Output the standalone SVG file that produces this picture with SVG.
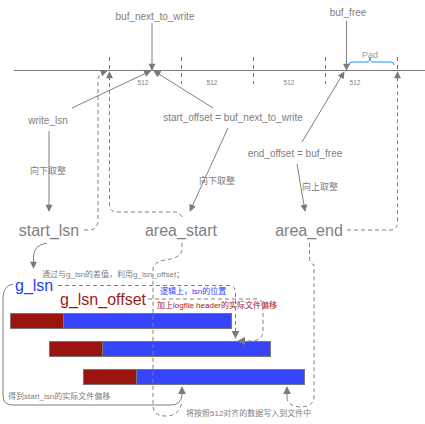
<svg xmlns="http://www.w3.org/2000/svg" width="425" height="424" viewBox="0 0 425 424">
<defs>
<marker id="ah" viewBox="0 0 10 10" refX="9" refY="5" markerWidth="7.5" markerHeight="7" markerUnits="userSpaceOnUse" orient="auto"><path d="M0,0 L10,5 L0,10 Z" fill="#7a7a7a"/></marker>
<marker id="ah2" viewBox="0 0 10 10" refX="9" refY="5" markerWidth="8" markerHeight="8" markerUnits="userSpaceOnUse" orient="auto"><path d="M0,0 L10,5 L0,10 Z" fill="#7a7a7a"/></marker>
</defs>
<style>
text{font-family:"Liberation Sans","Noto Sans CJK SC",sans-serif;fill:#808080}
.s{font-size:10px}
.t{font-size:6.5px}
.c{font-size:8px}
.z{font-size:9px}
.L{font-size:16px}
.tick{stroke:#707070;stroke-width:1;stroke-dasharray:4,4;fill:none}
.ln{stroke:#808080;stroke-width:1;fill:none}
.d{stroke:#808080;stroke-width:1;fill:none;stroke-dasharray:4,3}
.red{fill:#9a1510;stroke:#777;stroke-width:1}
.blue{fill:#3644fb;stroke:#777;stroke-width:1}
</style>
<rect width="425" height="424" fill="#fff"/>
<g id="timeline">
<line x1="14" y1="70.5" x2="425" y2="70.5" stroke="#7a7a7a" stroke-width="1"/>
<path class="tick" d="M109.5,57 V70 M181.5,57 V84 M253.5,57 V84 M325.5,57 V84 M397.5,57 V70"/>
<text class="t" x="143" y="85" text-anchor="middle">512</text>
<text class="t" x="212" y="85" text-anchor="middle">512</text>
<text class="t" x="289" y="85" text-anchor="middle">512</text>
<text class="t" x="355" y="85" text-anchor="middle">512</text>
</g>
<g id="pad">
<path d="M349,65 Q349,62 353,62 H367 Q370,62 370,57 Q370,62 373,62 H391 Q394,62 394,65" fill="none" stroke="#1e90ff" stroke-width="1"/>
<text class="z" x="370" y="58" text-anchor="middle" style="fill:#9a9a9a">Pad</text>
</g>
<g id="buf_next_to_write"><text class="s" x="155" y="20" text-anchor="middle">buf_next_to_write</text></g>
<g id="buf_free"><text class="s" x="348" y="16" text-anchor="middle">buf_free</text></g>
<g id="write_lsn"><text class="s" x="48" y="124" text-anchor="middle">write_lsn</text></g>
<g id="start_offset"><text class="s" x="233" y="121" text-anchor="middle">start_offset = buf_next_to_write</text></g>
<g id="end_offset"><text class="s" x="295" y="157" text-anchor="middle">end_offset = buf_free</text></g>
<g id="start_lsn"><text class="L" x="49" y="236" text-anchor="middle">start_lsn</text></g>
<g id="area_start"><text class="L" x="181" y="236" text-anchor="middle">area_start</text></g>
<g id="area_end"><text class="L" x="309" y="236" text-anchor="middle">area_end</text></g>
<g id="g_lsn"><text class="L" x="15" y="291" style="fill:#1f3dff">g_lsn</text></g>
<g id="g_lsn_offset"><text class="L" x="60" y="305" style="fill:#9b1c1c">g_lsn_offset</text></g>
<g id="bars">
<rect class="red" x="10.5" y="313.5" width="53" height="15"/>
<rect class="blue" x="63.5" y="313.5" width="168" height="15"/>
<rect class="red" x="49.5" y="341.5" width="53" height="15"/>
<rect class="blue" x="102.5" y="341.5" width="168" height="15"/>
<rect class="red" x="83.5" y="369.5" width="53" height="15"/>
<rect class="blue" x="136.5" y="369.5" width="168" height="15"/>
</g>
<g id="labels">
<text class="z" x="48" y="174" text-anchor="middle">向下取整</text>
<text class="z" x="217" y="184" text-anchor="middle">向下取整</text>
<text class="z" x="320" y="190" text-anchor="middle">向上取整</text>
<text class="c" x="42" y="277">通过与g_lsn的差值，利用g_lsn_offset；</text>
<text class="c" x="160" y="294" style="fill:#1f3dff">逻辑上，lsn的位置</text>
<text class="c" x="157" y="308" style="fill:#a52020">加上logfile header的实际文件偏移</text>
<text class="c" x="8" y="399">得到start_lsn的实际文件偏移</text>
<text class="c" x="186" y="416">将按照512对齐的数据写入到文件中</text>
</g>
<g id="connectors">
<path class="ln" d="M152,23 V70" marker-end="url(#ah)"/>
<path class="ln" d="M346.5,21 V70" marker-end="url(#ah)"/>
<path class="ln" d="M72,108 L150.5,71" marker-end="url(#ah)"/>
<path class="ln" d="M213,108 L154,71" marker-end="url(#ah)"/>
<path class="ln" d="M302,142 L344,72" marker-end="url(#ah)"/>
<path class="ln" d="M49,131 V211" marker-end="url(#ah)"/>
<path class="ln" d="M228,128 L190,211" marker-end="url(#ah)"/>
<path class="ln" d="M297,164 L305,211" marker-end="url(#ah)"/>
<path class="ln" d="M47,243 Q34,245 33.5,256 V268" marker-end="url(#ah)"/>
<path class="d" d="M84,230 H90 Q98,229 98,220 V80 Q98,74 107,71" marker-end="url(#ah)"/>
<path class="d" d="M182,217 Q180,212 174,212 H117 Q109.5,212 109.5,204 V72" marker-end="url(#ah)"/>
<path class="d" d="M347,230 H390 Q397.5,230 397.5,222 V72" marker-end="url(#ah)"/>
<path class="d" d="M182,243 V250 Q181,258 165,260 Q153,262 153,270 V405 Q153,416 166,416 Q180,416 182,401"/>
<path class="d" d="M309.5,243 V258 Q309.5,263 314,265 V396 Q314,407 300,407 Q288,406 287,398"/>
<path class="ln" d="M287,398 V387" marker-end="url(#ah2)"/>
<path class="d" d="M58,285.5 H229 Q235.5,286 235.5,292 V338" marker-end="url(#ah2)"/>
<path class="d" d="M148,299 H258 Q263,300 263,307 V332 Q262,341 250,341 H238" marker-end="url(#ah2)"/>
<path class="ln" d="M13,284 Q3,286 3,298 V396 Q3,405 13,405 H171 Q181,405 182,395 V387" marker-end="url(#ah2)"/>
</g>
</svg>
